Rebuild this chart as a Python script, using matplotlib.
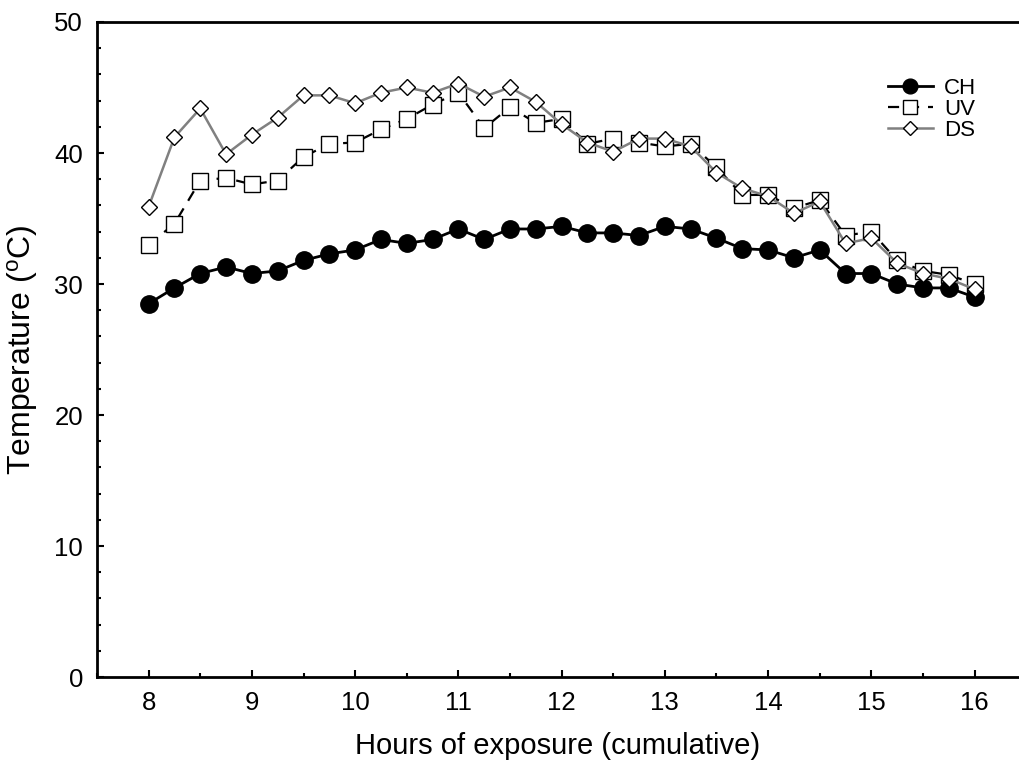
import numpy as np
import matplotlib.pyplot as plt

plt.rcParams['font.family'] = ['Liberation Sans', 'DejaVu Sans']
plt.rcParams['mathtext.fontset'] = 'custom'
plt.rcParams['mathtext.rm'] = 'Liberation Sans'
plt.rcParams['mathtext.it'] = 'Liberation Sans'

hours = [8, 8.25, 8.5, 8.75, 9, 9.25, 9.5, 9.75, 10, 10.25, 10.5, 10.75,
         11, 11.25, 11.5, 11.75, 12, 12.25, 12.5, 12.75, 13, 13.25, 13.5,
         13.75, 14, 14.25, 14.5, 14.75, 15, 15.25, 15.5, 15.75, 16]

ch = [28.5, 29.7, 30.8, 31.3, 30.8, 31.0, 31.8, 32.3, 32.6, 33.4, 33.1, 33.4,
      34.2, 33.4, 34.2, 34.2, 34.4, 33.9, 33.9, 33.7, 34.4, 34.2, 33.5,
      32.7, 32.6, 32.0, 32.6, 30.8, 30.8, 30.0, 29.7, 29.7, 29.0]

uv = [33.0, 34.6, 37.9, 38.1, 37.6, 37.9, 39.7, 40.7, 40.8, 41.8, 42.6, 43.7,
      44.6, 41.9, 43.5, 42.3, 42.6, 40.7, 41.1, 40.8, 40.5, 40.7, 38.9,
      36.8, 36.8, 35.8, 36.4, 33.7, 34.0, 31.8, 31.0, 30.7, 30.0]

ds = [35.9, 41.2, 43.4, 39.9, 41.4, 42.7, 44.4, 44.4, 43.8, 44.6, 45.0, 44.6,
      45.3, 44.3, 45.0, 43.9, 42.2, 40.8, 40.1, 41.1, 41.1, 40.5, 38.5,
      37.3, 36.7, 35.4, 36.3, 33.1, 33.5, 31.6, 30.8, 30.4, 29.6]

fig = plt.figure(figsize=(10.19, 7.69), dpi=100)
ax = fig.add_axes([0.0952, 0.1196, 0.9048, 0.8518])

ax.plot(hours, ch, '-o', color='black', lw=2, ms=12.5, mfc='black',
        mec='black', label='CH', zorder=3)
ax.plot(hours, uv, 's', color='black', ls=(0, (5, 4)), lw=1.6, ms=12,
        mfc='white', mec='black', mew=1.0, label='UV', zorder=2)
ax.plot(hours, ds, 'D', color='#808080', ls='-', lw=1.8, ms=8.5,
        mfc='white', mec='black', mew=1.0, label='DS', zorder=4)

ax.set_xlim(7.5, 16.43)
ax.set_ylim(0, 50)
ax.set_xticks(np.arange(8, 17, 1))
ax.set_xticks(np.arange(7.5, 16.5, 0.5), minor=True)
ax.set_yticks(np.arange(0, 51, 10))
ax.set_yticks(np.arange(0, 51, 2), minor=True)
ax.tick_params(which='both', direction='in', labelsize=18.5, width=1.5)
ax.tick_params(which='major', length=5, pad=10)
ax.tick_params(which='minor', length=3)
ax.spines['right'].set_visible(False)
for s in ['left', 'bottom', 'top']:
    ax.spines[s].set_linewidth(2)

ax.set_xlabel('Hours of exposure (cumulative)', fontsize=21, labelpad=12)
ax.set_ylabel('Temperature ($^{o}$C)', fontsize=23, labelpad=10)

ax.legend(loc='upper right', bbox_to_anchor=(0.975, 0.945), frameon=False,
          fontsize=16, handlelength=2.0, handletextpad=0.5, labelspacing=0.0,
          markerscale=0.85)

fig.savefig('out.png', dpi=100)
